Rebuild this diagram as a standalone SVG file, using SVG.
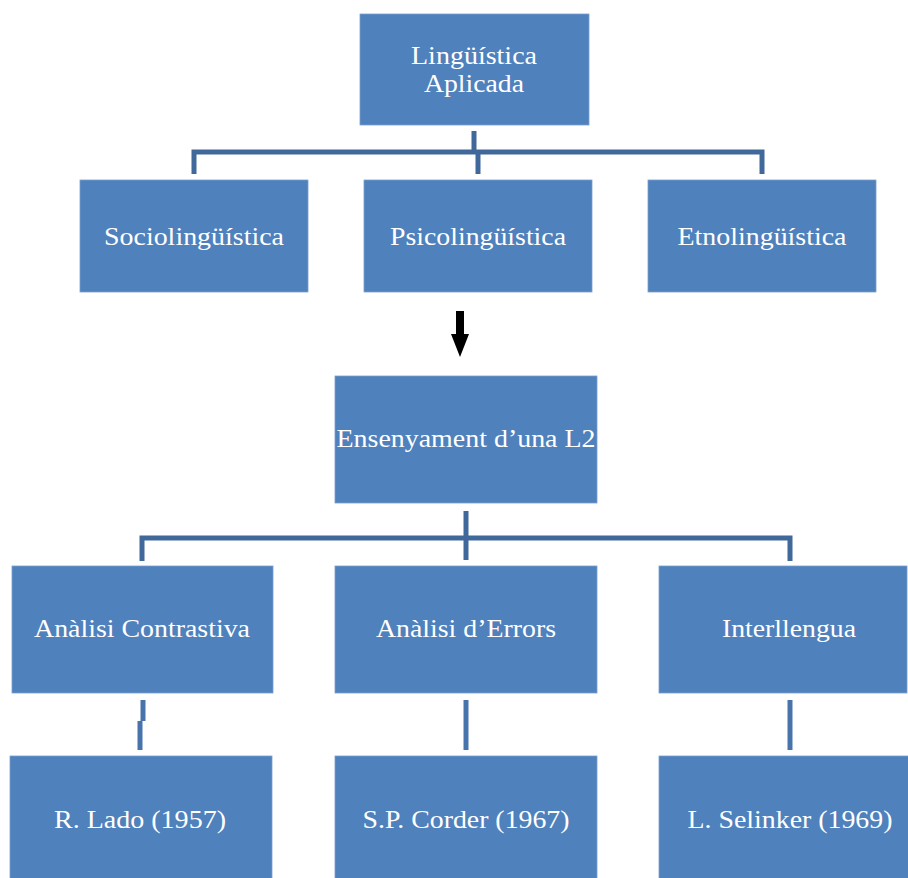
<svg xmlns="http://www.w3.org/2000/svg" width="908" height="878" viewBox="0 0 908 878">
<style>
.box{fill:#4F81BD;stroke:#7A9FD0;stroke-width:0.8}
.t{font-family:"Liberation Serif","Times New Roman",serif;font-size:25px;fill:#FFFFFF;text-anchor:middle}
.c{fill:none;stroke:#41689A;stroke-width:5}
.c2{fill:none;stroke:#4874AC;stroke-width:5}
</style>
<rect width="908" height="878" fill="#FFFFFF"/>
<g id="connectors">
<path class="c" d="M474,131 V152"/>
<path class="c" d="M194,174 V152 H762 V174"/>
<path class="c" d="M478,152 V174"/>
<path class="c" d="M466,511 V560"/>
<path class="c" d="M142,561 V538 H790 V561"/>
<path class="c2" d="M143,700 V721 M140,721 V750"/>
<path class="c2" d="M466,700 V750"/>
<path class="c2" d="M790,700 V750"/>
<polygon points="456,311 464,311 464,334 469,334 460,357 451,334 456,334" fill="#000000"/>
</g>
<g id="n-linguistica"><rect class="box" x="360" y="14" width="229" height="111"/><text class="t" x="474" y="64" textLength="126" lengthAdjust="spacingAndGlyphs">Lingüística</text><text class="t" x="474" y="92" textLength="100" lengthAdjust="spacingAndGlyphs">Aplicada</text></g>
<g id="n-socio"><rect class="box" x="80" y="180" width="228" height="112"/><text class="t" x="194" y="245" textLength="180" lengthAdjust="spacingAndGlyphs">Sociolingüística</text></g>
<g id="n-psico"><rect class="box" x="364" y="180" width="228" height="112"/><text class="t" x="478" y="245" textLength="176" lengthAdjust="spacingAndGlyphs">Psicolingüística</text></g>
<g id="n-etno"><rect class="box" x="648" y="180" width="228" height="112"/><text class="t" x="762" y="245" textLength="169" lengthAdjust="spacingAndGlyphs">Etnolingüística</text></g>
<g id="n-ensenyament"><rect class="box" x="335" y="376" width="262" height="127"/><text class="t" x="466" y="447" textLength="259" lengthAdjust="spacingAndGlyphs">Ensenyament d’una L2</text></g>
<g id="n-contrastiva"><rect class="box" x="12" y="566" width="261" height="127"/><text class="t" x="142" y="637" textLength="216" lengthAdjust="spacingAndGlyphs">Anàlisi Contrastiva</text></g>
<g id="n-errors"><rect class="box" x="335" y="566" width="262" height="127"/><text class="t" x="466" y="637" textLength="180" lengthAdjust="spacingAndGlyphs">Anàlisi d’Errors</text></g>
<g id="n-interllengua"><rect class="box" x="659" y="566" width="248" height="127"/><text class="t" x="789" y="637" textLength="134" lengthAdjust="spacingAndGlyphs">Interllengua</text></g>
<g id="n-lado"><rect class="box" x="10" y="756" width="262" height="124"/><text class="t" x="140" y="828" textLength="172" lengthAdjust="spacingAndGlyphs">R. Lado (1957)</text></g>
<g id="n-corder"><rect class="box" x="335" y="756" width="262" height="124"/><text class="t" x="466" y="828" textLength="207" lengthAdjust="spacingAndGlyphs">S.P. Corder (1967)</text></g>
<g id="n-selinker"><rect class="box" x="659" y="756" width="250" height="124"/><text class="t" x="790" y="828" textLength="205" lengthAdjust="spacingAndGlyphs">L. Selinker (1969)</text></g>
</svg>
